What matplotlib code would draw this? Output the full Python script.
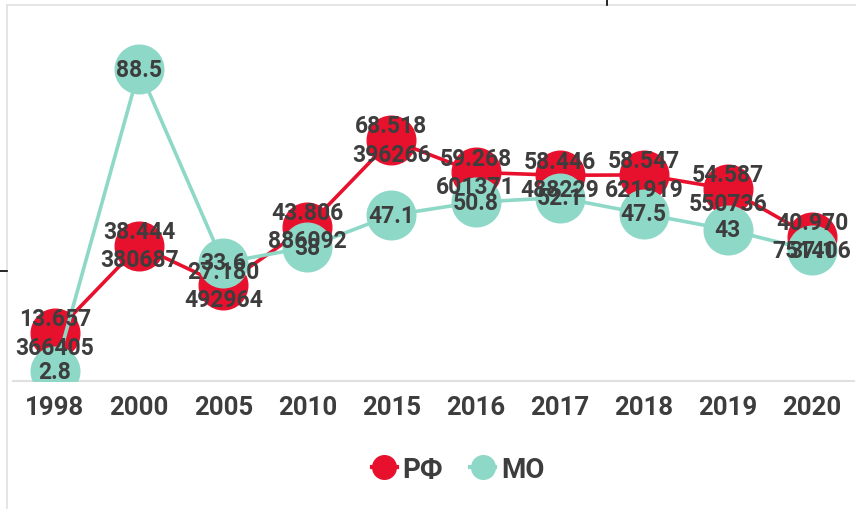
import matplotlib.pyplot as plt
from matplotlib.lines import Line2D

years = ['1998', '2000', '2005', '2010', '2015', '2016', '2017', '2018', '2019', '2020']
rf = [13.657366405, 38.444380687, 27.180492964, 43.806886092, 68.518396266,
      59.268601371, 58.446488229, 58.547621919, 54.587550736, 40.970751406]
mo = [2.8, 88.5, 33.6, 38, 47.1, 50.8, 52.1, 47.5, 43, 37.1]

red = '#E8112D'
teal = '#8ED8C8'
txt = '#3D3D3D'

plt.rcParams['font.family'] = ['Roboto', 'DejaVu Sans']

fig = plt.figure(figsize=(8.56, 5.10), dpi=100)
ax = fig.add_axes([13 / 856, 128 / 510, 841 / 856, 352 / 510])

x = list(range(len(years)))
ax.plot(x, rf, color=red, lw=2.6, marker='o', ms=35, zorder=2)
ax.plot(x, mo, color=teal, lw=2.6, marker='o', ms=35, zorder=3)

# labels: RF value wrapped after three decimals, like the original
for i in x:
    s = '%.9f' % rf[i]
    lab = s[:-6] + '\n' + s[-6:]
    ax.text(i, rf[i], lab, ha='center', va='center', ma='center', fontsize=16.5,
            fontweight='bold', color=txt, linespacing=1.3, zorder=5)
    ax.text(i, mo[i], '%g' % mo[i], ha='center', va='center', fontsize=16.5,
            fontweight='bold', color=txt, zorder=5)

ax.set_xlim(-0.5, len(years) - 0.5)
ax.set_ylim(0, 100)
ax.set_xticks(x)
ax.set_xticklabels(years, fontsize=18.5, fontweight='bold', color=txt)
ax.tick_params(axis='x', length=0, pad=10)
ax.set_yticks([])
for s in ['top', 'right', 'left']:
    ax.spines[s].set_visible(False)
ax.spines['bottom'].set_color('#E0E0E0')
ax.spines['bottom'].set_linewidth(1.5)
ax.patch.set_alpha(0)

handles = [Line2D([], [], color=red, marker='o', ms=17, lw=3),
           Line2D([], [], color=teal, marker='o', ms=17, lw=3)]
leg = fig.legend(handles, ['РФ', 'МО'], loc='center', bbox_to_anchor=(0.535, 0.078),
                 ncol=2, frameon=False, handlelength=0.9, handletextpad=0.2,
                 columnspacing=1.0, prop={'size': 20, 'weight': 'bold'})
for t in leg.get_texts():
    t.set_color(txt)

# frame of the screenshot
fig.add_artist(Line2D([7 / 856, 1], [1 - 6 / 510, 1 - 6 / 510], color='#E0E0E0', lw=1.2))
fig.add_artist(Line2D([7 / 856, 7 / 856], [0, 1 - 6 / 510], color='#E0E0E0', lw=1.2))
fig.add_artist(Line2D([607 / 856, 607 / 856], [1, 1 - 6 / 510], color='black', lw=1.2))
fig.add_artist(Line2D([0, 7 / 856], [1 - 272 / 510, 1 - 272 / 510], color='black', lw=1.2))

fig.savefig('out.png', dpi=100)
